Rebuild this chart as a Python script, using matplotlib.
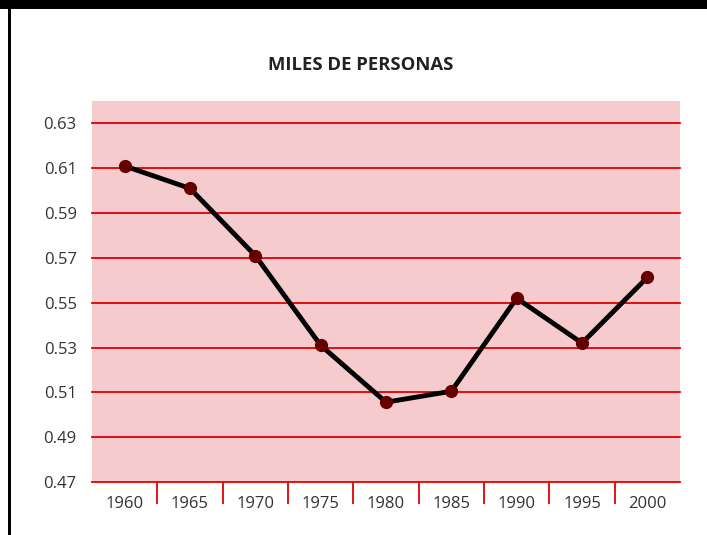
import matplotlib
matplotlib.use("Agg")
import matplotlib.pyplot as plt
from matplotlib.patches import Rectangle
import numpy as np

years = ["1960", "1965", "1970", "1975", "1980", "1985", "1990", "1995", "2000"]
values = [0.611, 0.601, 0.571, 0.531, 0.5056, 0.5105, 0.552, 0.532, 0.5613]
yticks = [0.47, 0.49, 0.51, 0.53, 0.55, 0.57, 0.59, 0.61, 0.63]
title = "MILES DE PERSONAS"

plt.rcParams['font.family'] = ['Open Sans', 'DejaVu Sans']

W, H = 707, 535
fig = plt.figure(figsize=(W / 100, H / 100), dpi=100)
fig.patch.set_facecolor("white")

# frame: black top band and left line
fig.patches.append(Rectangle((0, 1 - 9 / H), 1, 9 / H, transform=fig.transFigure,
                             facecolor="black", edgecolor="none", zorder=0))
fig.patches.append(Rectangle((8 / W, 0), 3 / W, 1, transform=fig.transFigure,
                             facecolor="black", edgecolor="none", zorder=0))

left, right, top, bottom = 92, 680, 101, 482
ax = fig.add_axes([left / W, 1 - bottom / H, (right - left) / W, (bottom - top) / H])
ax.set_facecolor("#F5CBCE")

x = np.arange(len(years))
ax.set_xlim(-0.5, len(years) - 0.5)
ax.set_ylim(0.47, 0.64)

for yv in yticks:
    ax.axhline(yv, color="#E00000", lw=1.3, zorder=1, clip_on=False)

ax.plot(x, values, color="black", lw=3.5, zorder=3)
ax.plot(x, values, 'o', color="#660000", ms=8.5, zorder=4)

for s in ax.spines.values():
    s.set_visible(False)

ax.set_yticks(yticks)
ax.set_yticklabels([f"{v:.2f}" for v in yticks])
ax.tick_params(axis='y', length=0, pad=11, labelsize=12, labelcolor="#333333")

ax.set_xticks(x)
ax.set_xticklabels(years)
ax.tick_params(axis='x', length=0, pad=10, labelsize=12, labelcolor="#333333")
ax.set_xticks(np.arange(0.5, len(years) - 1, 1), minor=True)
ax.tick_params(axis='x', which='minor', length=16, width=1.3, color="#E00000", direction='out')

fig.text(361 / W, 1 - 65 / H, title, ha='center', va='center',
         fontsize=13.3, fontweight='bold', color="#222222")

fig.savefig("out.png", dpi=100)
